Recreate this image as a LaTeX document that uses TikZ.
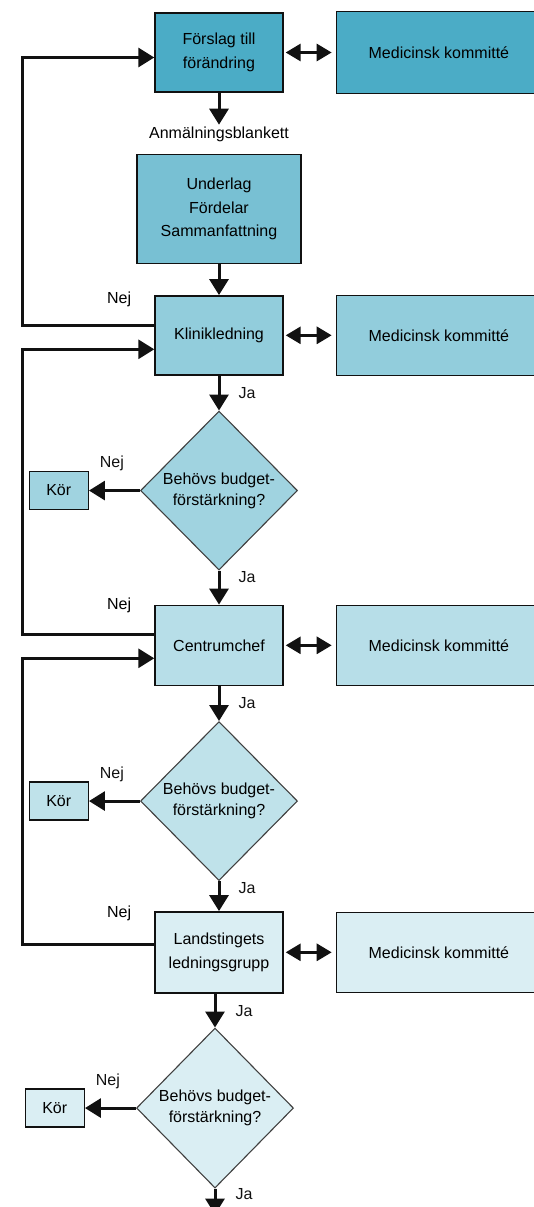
\documentclass[tikz,border=0pt]{standalone}
\usepackage{fontspec}
\setmainfont{Liberation Sans}
\usepackage{xcolor}
\usetikzlibrary{positioning, arrows.meta, shapes.geometric}
\definecolor{fkink}{HTML}{111111}
\definecolor{fkA}{HTML}{4BACC6}
\definecolor{fkB}{HTML}{78C0D3}
\definecolor{fkC}{HTML}{92CDDC}
\definecolor{fkD}{HTML}{A0D3E0}
\definecolor{fkE}{HTML}{B7DEE8}
\definecolor{fkF}{HTML}{BFE2EA}
\definecolor{fkG}{HTML}{DAEEF3}

\begin{document}
\begin{tikzpicture}[font=\fontsize{16}{23.5}\selectfont, node distance=30pt,
  box/.style={draw=fkink, line width=1.4pt, minimum width=128pt, minimum height=80pt, align=center, inner sep=2pt},
  wide/.style={box, minimum width=205pt},
  decide/.style={diamond, draw=black!75, line width=1.1pt, minimum width=157pt, minimum height=159pt, inner sep=0pt, align=center, font=\fontsize{16}{21}\selectfont},
  kor/.style={box, minimum width=59pt, minimum height=38pt},
  lbl/.style={inner sep=1pt},
  ar/.style={-{Triangle[length=16pt,width=19pt]}, line width=3pt, fkink},
  dar/.style={{Triangle[length=15pt,width=17pt]}-{Triangle[length=15pt,width=17pt]}, line width=3pt, fkink, shorten <=2pt, shorten >=4pt}]

\useasboundingbox (0,0) rectangle (534pt,-1207pt);
\clip (0,0) rectangle (534pt,-1207pt);

\node[box, fill=fkA, minimum height=79pt] (forslag) at (219pt,-52.5pt) {Förslag till\\förändring};
\node[lbl, inner sep=2pt, below=32pt of forslag] (blankett) {Anmälningsblankett};
\node[box, fill=fkB, minimum width=164pt, minimum height=109pt, below=61pt of forslag] (underlag) {Underlag\\Fördelar\\Sammanfattning};
\node[box, fill=fkC, minimum height=79pt, below=31pt of underlag] (klinik) {Klinikledning};
\node[decide, fill=fkD, below=35pt of klinik] (bud1) {Behövs budget-\\förstärkning?};
\node[box, fill=fkE, below=34pt of bud1] (centrum) {Centrumchef};
\node[decide, fill=fkF, below=35pt of centrum] (bud2) {Behövs budget-\\förstärkning?};
\node[box, fill=fkG, minimum height=81pt, below=30pt of bud2] (lands) {Landstingets\\ledningsgrupp};
\node[decide, fill=fkG, minimum height=160pt, below=34pt of lands, xshift=-4pt] (bud3) {Behövs budget-\\förstärkning?};
\coordinate[below=26pt of bud3] (slut);

\node[wide, fill=fkA, minimum height=82pt, right=52pt of forslag] (med1) {Medicinsk kommitté};
\node[wide, fill=fkC, right=52pt of klinik] (med2) {Medicinsk kommitté};
\node[wide, fill=fkE, right=52pt of centrum] (med3) {Medicinsk kommitté};
\node[wide, fill=fkG, right=52pt of lands] (med4) {Medicinsk kommitté};

\node[kor, fill=fkD, left=51pt of bud1] (kor1) {Kör};
\node[kor, fill=fkF, left=51pt of bud2] (kor2) {Kör};
\node[kor, fill=fkG, left=51pt of bud3] (kor3) {Kör};

\coordinate (rail) at (22pt,0);

\draw[ar] (forslag) -- (blankett);
\draw[ar] (underlag) -- (klinik);
\draw[ar] (klinik) -- node[lbl, right=17pt] (ja1) {Ja} (bud1);
\draw[ar] (bud1) -- node[lbl, pos=0.2, right=17pt] (ja2) {Ja} (centrum);
\draw[ar] (centrum) -- node[lbl, right=17pt] (ja3) {Ja} (bud2);
\draw[ar] (bud2) -- node[lbl, pos=0.23, right=17pt] (ja4) {Ja} (lands);
\draw[ar] (lands.south -| bud3) -- node[lbl, pos=0.53, right=18pt] (ja5) {Ja} (bud3);
\draw[ar] (bud3) -- node[lbl, pos=0.2, right=18pt] (ja6) {Ja} (slut);

\draw[ar] (bud1) -- node[lbl, pos=0.55, above=17pt] (nej4) {Nej} (kor1);
\draw[ar] (bud2) -- node[lbl, pos=0.55, above=17pt] (nej5) {Nej} (kor2);
\draw[ar] (bud3) -- node[lbl, pos=0.55, above=17pt] (nej6) {Nej} (kor3);

\draw[dar] (forslag) -- (med1);
\draw[dar] (klinik) -- (med2);
\draw[dar] (centrum) -- (med3);
\draw[dar] (lands) -- (med4);

\draw[ar] ([yshift=10pt]klinik.west) -- ([yshift=10pt]klinik.west -| rail) |- ([yshift=-5pt]forslag.west);
\draw[ar] ([yshift=11pt]centrum.west) -- ([yshift=11pt]centrum.west -| rail) |- ([yshift=-14pt]klinik.west);
\draw[ar] ([yshift=8pt]lands.west) -- ([yshift=8pt]lands.west -| rail) |- ([yshift=-13pt]centrum.west);

\node[lbl, left=22pt of klinik.north west, yshift=-4pt] (nej1) {Nej};
\node[lbl, left=22pt of centrum.north west, yshift=-1pt] (nej2) {Nej};
\node[lbl, left=22pt of lands.north west, yshift=-2pt] (nej3) {Nej};
\end{tikzpicture}
\end{document}
